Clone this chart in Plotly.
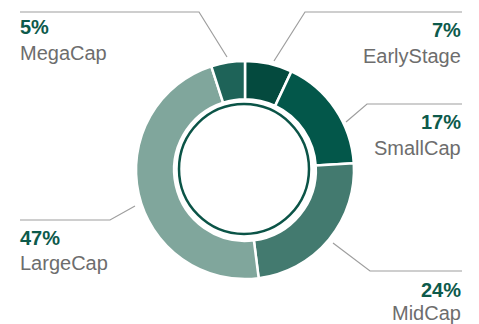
import plotly.graph_objects as go

# ---- data ----
labels = ["EarlyStage", "SmallCap", "MidCap", "LargeCap", "MegaCap"]
values = [7, 17, 24, 47, 5]
colors = ["#044a3e", "#03574a", "#437a6f", "#80a69c", "#1e6358"]

W, H = 479, 324

def px(x):
    return x / W

def py(y):
    return 1 - y / H

# ---- layout helpers (pixel positions of labels and leader lines) ----
label_pos = {
    "MegaCap":    dict(x=18,  anchor="left",  pct_y=27,  name_y=53),
    "EarlyStage": dict(x=463, anchor="right", pct_y=30,  name_y=56),
    "SmallCap":   dict(x=463, anchor="right", pct_y=122, name_y=148),
    "LargeCap":   dict(x=18,  anchor="left",  pct_y=238, name_y=263),
    "MidCap":     dict(x=463, anchor="right", pct_y=290, name_y=313),
}
leaders = {
    "MegaCap":    [(20, 12), (199, 12), (227, 57)],
    "EarlyStage": [(462, 12), (305, 12), (274, 61)],
    "SmallCap":   [(462, 104), (367, 104), (346, 122)],
    "MidCap":     [(462, 271), (370, 271), (333, 243)],
    "LargeCap":   [(20, 220), (110, 220), (135, 206)],
}

cx, cy, r = 245, 170, 109

fig = go.Figure(go.Pie(
    labels=labels,
    values=values,
    sort=False,
    direction="clockwise",
    rotation=0,
    hole=0.65,
    marker=dict(colors=colors, line=dict(color="white", width=2.5)),
    textinfo="none",
    hoverinfo="label+percent",
    showlegend=False,
    domain=dict(x=[px(cx - r), px(cx + r)], y=[py(cy + r), py(cy - r)]),
))

shapes = []
# inner ring outline
ir = 65
shapes.append(dict(type="circle", xref="paper", yref="paper",
                   x0=px(cx - 1 - ir), x1=px(cx - 1 + ir),
                   y0=py(cy - 1 + ir), y1=py(cy - 1 - ir),
                   line=dict(color="#0b5447", width=2.5)))
for name, pts in leaders.items():
    path = "M " + " L ".join(f"{px(x):.5f},{py(y):.5f}" for x, y in pts)
    shapes.append(dict(type="path", xref="paper", yref="paper", path=path,
                       line=dict(color="#9e9e9e", width=1.2)))

annotations = []
for lab, val in zip(labels, values):
    p = label_pos[lab]
    annotations.append(dict(
        x=px(p["x"]), y=py(p["pct_y"]), xref="paper", yref="paper",
        xanchor=p["anchor"], yanchor="middle", showarrow=False,
        text=f"<b>{val}%</b>",
        font=dict(family="Liberation Sans, Arial, sans-serif", size=20, color="#0d5a4b")))
    annotations.append(dict(
        x=px(p["x"]), y=py(p["name_y"]), xref="paper", yref="paper",
        xanchor=p["anchor"], yanchor="middle", showarrow=False,
        text=lab,
        font=dict(family="Liberation Sans, Arial, sans-serif", size=20, color="#6d6d6d")))

fig.update_layout(
    width=W, height=H,
    margin=dict(l=0, r=0, t=0, b=0),
    paper_bgcolor="white", plot_bgcolor="white",
    shapes=shapes, annotations=annotations,
)

fig.write_html("out.html",
               config={"displayModeBar": False},
               post_script="document.body.style.margin='0';document.body.style.overflow='hidden';")
